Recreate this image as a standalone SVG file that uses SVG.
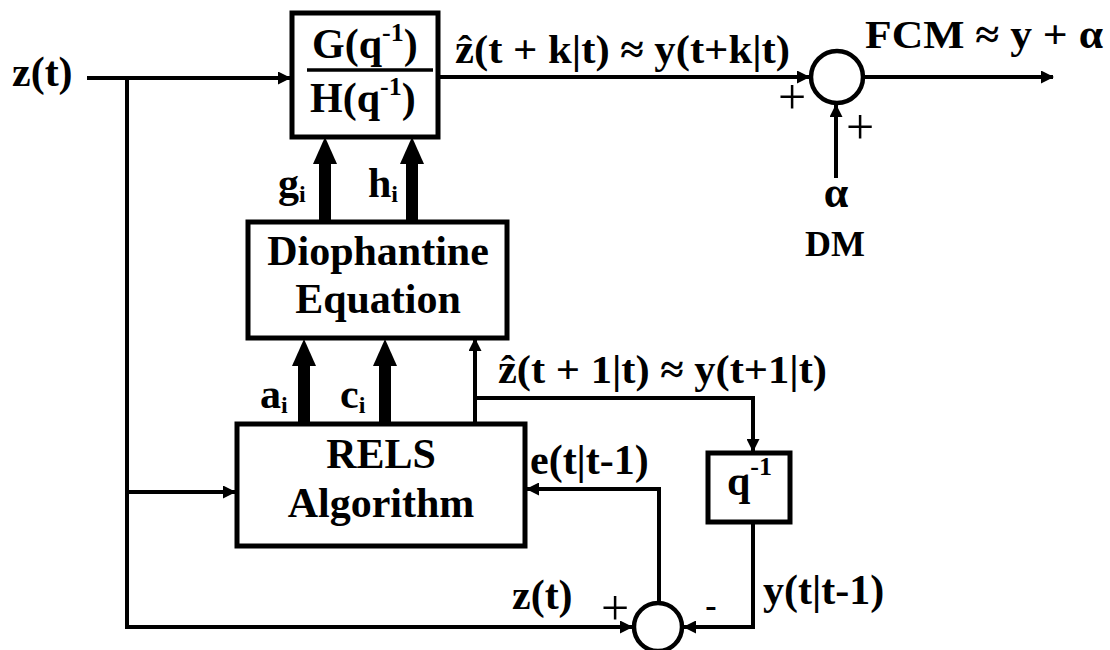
<svg xmlns="http://www.w3.org/2000/svg" width="1110" height="650" viewBox="0 0 1110 650" font-family="'Liberation Serif', 'Times New Roman', Tinos, 'DejaVu Serif', serif">
<style>
text{font-family:"Liberation Serif","Times New Roman",Tinos,"DejaVu Serif",serif;font-weight:bold;fill:#000}
.box{fill:#fff;stroke:#000;stroke-width:5}
.ln{fill:none;stroke:#000;stroke-width:4;stroke-linejoin:miter}
.thick{fill:none;stroke:#000;stroke-width:12;stroke-linecap:round}
.head{fill:#000;stroke:none}
.sum{fill:#fff;stroke:#000;stroke-width:4.5}
.pm{font-weight:normal;font-size:50px}
</style>
<defs>
<marker id="arr" markerUnits="userSpaceOnUse" markerWidth="13" markerHeight="13" refX="12" refY="6.5" orient="auto">
<path d="M0,0 L13,6.5 L0,13 z" fill="#000"/>
</marker>
</defs>
<rect width="1110" height="650" fill="#fff"/>

<g id="connectors">
<path class="ln" d="M87,78 H290" marker-end="url(#arr)"/>
<path class="ln" d="M127,78 V627 H632" marker-end="url(#arr)"/>
<path class="ln" d="M127,492 H235" marker-end="url(#arr)"/>
<path class="ln" d="M438,77 H809" marker-end="url(#arr)"/>
<path class="ln" d="M864,77 H1053" marker-end="url(#arr)"/>
<path class="ln" d="M836,178 V105" marker-end="url(#arr)"/>
<path class="ln" d="M475,424 V339" marker-end="url(#arr)"/>
<path class="ln" d="M475,398 H753 V451" marker-end="url(#arr)"/>
<path class="ln" d="M753,522 V627 H684" marker-end="url(#arr)"/>
<path class="ln" d="M659,602 V489 H527" marker-end="url(#arr)"/>
<path class="thick" d="M325,220 V160"/>
<path class="head" d="M313,164 L337,164 L325,137 z"/>
<path class="thick" d="M412,220 V160"/>
<path class="head" d="M400,164 L424,164 L412,137 z"/>
<path class="thick" d="M304,422 V362"/>
<path class="head" d="M292,366 L316,366 L304,339 z"/>
<path class="thick" d="M385,422 V362"/>
<path class="head" d="M373,366 L397,366 L385,339 z"/>
</g>

<g id="node-gh">
<rect class="box" x="292" y="13" width="146" height="124"/>
<text x="312" y="58" font-size="42">G(q<tspan font-size="26" dy="-17">-1</tspan><tspan dy="17">)</tspan></text>
<line x1="307" y1="70" x2="433" y2="70" stroke="#000" stroke-width="3.5"/>
<text x="310" y="112" font-size="42">H(q<tspan font-size="26" dy="-17">-1</tspan><tspan dy="17">)</tspan></text>
</g>

<g id="node-dioph">
<rect class="box" x="248" y="222" width="259" height="116"/>
<text x="378" y="265" font-size="42" text-anchor="middle">Diophantine</text>
<text x="378" y="313" font-size="42" text-anchor="middle">Equation</text>
</g>

<g id="node-rels">
<rect class="box" x="237" y="424" width="288" height="122"/>
<text x="381" y="468" font-size="42" text-anchor="middle">RELS</text>
<text x="381" y="517" font-size="42" text-anchor="middle">Algorithm</text>
</g>

<g id="node-delay">
<rect class="box" x="708" y="453" width="82" height="69"/>
<text x="727" y="495" font-size="42">q<tspan font-size="26" dy="-20">-1</tspan></text>
</g>

<g id="node-sum-top">
<circle class="sum" cx="837" cy="77" r="26"/>
</g>

<g id="node-sum-bottom">
<circle class="sum" cx="658" cy="627" r="24"/>
</g>

<g id="labels">
<text x="12" y="86" font-size="42">z(t)</text>
<text x="455" y="63" font-size="40" textLength="335" lengthAdjust="spacingAndGlyphs">ẑ(t + k|t) ≈ y(t+k|t)</text>
<text x="865" y="48" font-size="40" textLength="238" lengthAdjust="spacingAndGlyphs">FCM ≈ y + α</text>
<text class="pm" x="792" y="114" text-anchor="middle">+</text>
<text class="pm" x="860" y="144" text-anchor="middle">+</text>
<text x="836" y="207" font-size="44" font-weight="normal" text-anchor="middle">α</text>
<text x="835" y="256" font-size="36" text-anchor="middle">DM</text>
<text x="278" y="197" font-size="42">g<tspan font-size="24" dy="5">i</tspan></text>
<text x="368" y="197" font-size="42">h<tspan font-size="24" dy="5">i</tspan></text>
<text x="260" y="408" font-size="42">a<tspan font-size="24" dy="5">i</tspan></text>
<text x="340" y="408" font-size="42">c<tspan font-size="24" dy="5">i</tspan></text>
<text x="498" y="383" font-size="40" textLength="329" lengthAdjust="spacingAndGlyphs">ẑ(t + 1|t) ≈ y(t+1|t)</text>
<text x="530" y="474" font-size="42">e(t|t-1)</text>
<text x="763" y="604" font-size="42">y(t|t-1)</text>
<text x="512" y="609" font-size="42">z(t)</text>
<text class="pm" x="615" y="625" text-anchor="middle">+</text>
<text x="711" y="617" font-size="34" font-weight="normal" text-anchor="middle">-</text>
</g>
</svg>
